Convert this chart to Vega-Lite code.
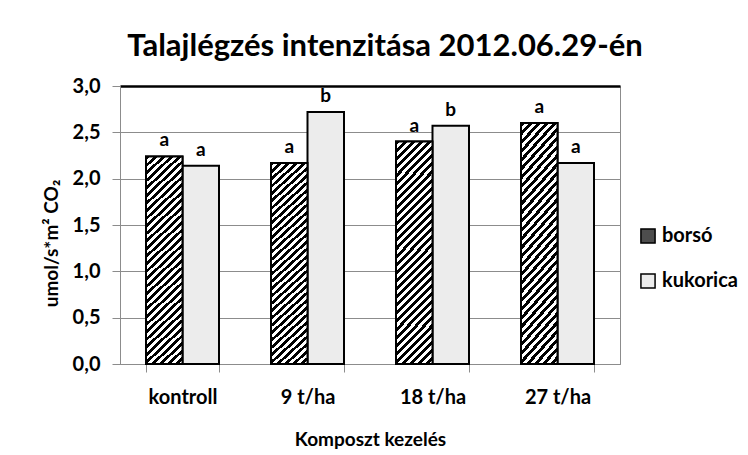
{
  "$schema": "https://vega.github.io/schema/vega-lite/v6.json",
  "width": 500,
  "height": 278,
  "autosize": "none",
  "padding": {"left": 120, "top": 86, "right": 128, "bottom": 91},
  "background": "white",
  "config": {"font": "Lato", "view": {"stroke": "#8c8c8c", "strokeWidth": 1}},
  "title": {"text": "Talajlégzés intenzitása 2012.06.29-én", "font": "Lato", "fontSize": 31, "fontWeight": "bold", "color": "black", "anchor": "middle", "frame": "group", "dx": 15, "dy": 16, "baseline": "alphabetic", "offset": 5},
  "data": {"values": [
    {"kezeles": "kontroll", "crop": "borsó", "value": 2.24, "sig": "a"},
    {"kezeles": "kontroll", "crop": "kukorica", "value": 2.14, "sig": "a"},
    {"kezeles": "9 t/ha", "crop": "borsó", "value": 2.17, "sig": "a"},
    {"kezeles": "9 t/ha", "crop": "kukorica", "value": 2.72, "sig": "b"},
    {"kezeles": "18 t/ha", "crop": "borsó", "value": 2.40, "sig": "a"},
    {"kezeles": "18 t/ha", "crop": "kukorica", "value": 2.57, "sig": "b"},
    {"kezeles": "27 t/ha", "crop": "borsó", "value": 2.60, "sig": "a"},
    {"kezeles": "27 t/ha", "crop": "kukorica", "value": 2.17, "sig": "a"}
  ]},
  "encoding": {
    "x": {"field": "kezeles", "type": "nominal", "sort": ["kontroll", "9 t/ha", "18 t/ha", "27 t/ha"],
      "scale": {"paddingInner": 0.416, "paddingOuter": 0.208},
      "title": "Komposzt kezelés",
      "axis": {"labelAngle": 0, "tickBand": "extent", "labelFontSize": 20, "labelFontWeight": "bold", "labelColor": "black", "domainColor": "#8c8c8c", "tickColor": "#8c8c8c", "tickSize": 8, "labelPadding": 15, "titleFontSize": 19, "titleFontWeight": "bold", "titleColor": "black", "titlePadding": 23, "grid": false}},
    "xOffset": {"field": "crop", "type": "nominal", "sort": ["borsó", "kukorica"], "scale": {"paddingInner": 0, "paddingOuter": 0}},
    "y": {"field": "value", "type": "quantitative", "scale": {"domain": [0, 3], "nice": false},
      "title": "umol/s*m² CO₂",
      "axis": {"values": [0, 0.5, 1, 1.5, 2, 2.5, 3], "labelExpr": "replace(format(datum.value, '.1f'), '.', ',')", "labelFontSize": 20, "labelFontWeight": "bold", "labelColor": "black", "domainColor": "#8c8c8c", "tickColor": "#8c8c8c", "tickSize": 8, "labelPadding": 12,
        "gridColor": {"condition": {"test": "datum.value === 3", "value": "black"}, "value": "#8c8c8c"},
        "gridWidth": {"condition": {"test": "datum.value === 3", "value": 2.5}, "value": 1},
        "titleFontSize": 19, "titleFontWeight": "bold", "titleColor": "black", "titlePadding": 11, "titleY": 157}}
  },
  "layer": [
    {"mark": {"type": "bar", "stroke": "black", "strokeWidth": 2},
     "encoding": {"fill": {"field": "crop", "type": "nominal", "sort": ["borsó", "kukorica"], "scale": {"range": ["#4d4d4d", "#ececec"]},
       "legend": {"title": null, "orient": "none", "legendX": 518, "legendY": 140, "symbolType": "square", "symbolSize": 200, "symbolStrokeColor": "black", "symbolStrokeWidth": 1.5, "labelFontSize": 20, "labelFontWeight": "bold", "labelColor": "black", "labelOffset": 4, "rowPadding": 23,
         "encode": {"symbols": {"update": {
           "stroke": {"value": "black"}, "strokeWidth": {"value": 1.5}, "opacity": {"value": 1}}}}}}}},
    {"transform": [{"filter": "datum.crop === 'borsó'"}],
     "mark": {"type": "bar", "stroke": "black", "strokeWidth": 2,
       "fill": {"gradient": "linear", "x1": 0, "y1": 0, "x2": 0.189, "y2": 1.135, "stops": [
{"offset":0,"color":"#000"},{"offset":0.015625,"color":"#000"},{"offset":0.015625,"color":"#fff"},{"offset":0.03125,"color":"#fff"},
{"offset":0.03125,"color":"#000"},{"offset":0.046875,"color":"#000"},{"offset":0.046875,"color":"#fff"},{"offset":0.0625,"color":"#fff"},
{"offset":0.0625,"color":"#000"},{"offset":0.078125,"color":"#000"},{"offset":0.078125,"color":"#fff"},{"offset":0.09375,"color":"#fff"},
{"offset":0.09375,"color":"#000"},{"offset":0.109375,"color":"#000"},{"offset":0.109375,"color":"#fff"},{"offset":0.125,"color":"#fff"},
{"offset":0.125,"color":"#000"},{"offset":0.140625,"color":"#000"},{"offset":0.140625,"color":"#fff"},{"offset":0.15625,"color":"#fff"},
{"offset":0.15625,"color":"#000"},{"offset":0.171875,"color":"#000"},{"offset":0.171875,"color":"#fff"},{"offset":0.1875,"color":"#fff"},
{"offset":0.1875,"color":"#000"},{"offset":0.203125,"color":"#000"},{"offset":0.203125,"color":"#fff"},{"offset":0.21875,"color":"#fff"},
{"offset":0.21875,"color":"#000"},{"offset":0.234375,"color":"#000"},{"offset":0.234375,"color":"#fff"},{"offset":0.25,"color":"#fff"},
{"offset":0.25,"color":"#000"},{"offset":0.265625,"color":"#000"},{"offset":0.265625,"color":"#fff"},{"offset":0.28125,"color":"#fff"},
{"offset":0.28125,"color":"#000"},{"offset":0.296875,"color":"#000"},{"offset":0.296875,"color":"#fff"},{"offset":0.3125,"color":"#fff"},
{"offset":0.3125,"color":"#000"},{"offset":0.328125,"color":"#000"},{"offset":0.328125,"color":"#fff"},{"offset":0.34375,"color":"#fff"},
{"offset":0.34375,"color":"#000"},{"offset":0.359375,"color":"#000"},{"offset":0.359375,"color":"#fff"},{"offset":0.375,"color":"#fff"},
{"offset":0.375,"color":"#000"},{"offset":0.390625,"color":"#000"},{"offset":0.390625,"color":"#fff"},{"offset":0.40625,"color":"#fff"},
{"offset":0.40625,"color":"#000"},{"offset":0.421875,"color":"#000"},{"offset":0.421875,"color":"#fff"},{"offset":0.4375,"color":"#fff"},
{"offset":0.4375,"color":"#000"},{"offset":0.453125,"color":"#000"},{"offset":0.453125,"color":"#fff"},{"offset":0.46875,"color":"#fff"},
{"offset":0.46875,"color":"#000"},{"offset":0.484375,"color":"#000"},{"offset":0.484375,"color":"#fff"},{"offset":0.5,"color":"#fff"},
{"offset":0.5,"color":"#000"},{"offset":0.515625,"color":"#000"},{"offset":0.515625,"color":"#fff"},{"offset":0.53125,"color":"#fff"},
{"offset":0.53125,"color":"#000"},{"offset":0.546875,"color":"#000"},{"offset":0.546875,"color":"#fff"},{"offset":0.5625,"color":"#fff"},
{"offset":0.5625,"color":"#000"},{"offset":0.578125,"color":"#000"},{"offset":0.578125,"color":"#fff"},{"offset":0.59375,"color":"#fff"},
{"offset":0.59375,"color":"#000"},{"offset":0.609375,"color":"#000"},{"offset":0.609375,"color":"#fff"},{"offset":0.625,"color":"#fff"},
{"offset":0.625,"color":"#000"},{"offset":0.640625,"color":"#000"},{"offset":0.640625,"color":"#fff"},{"offset":0.65625,"color":"#fff"},
{"offset":0.65625,"color":"#000"},{"offset":0.671875,"color":"#000"},{"offset":0.671875,"color":"#fff"},{"offset":0.6875,"color":"#fff"},
{"offset":0.6875,"color":"#000"},{"offset":0.703125,"color":"#000"},{"offset":0.703125,"color":"#fff"},{"offset":0.71875,"color":"#fff"},
{"offset":0.71875,"color":"#000"},{"offset":0.734375,"color":"#000"},{"offset":0.734375,"color":"#fff"},{"offset":0.75,"color":"#fff"},
{"offset":0.75,"color":"#000"},{"offset":0.765625,"color":"#000"},{"offset":0.765625,"color":"#fff"},{"offset":0.78125,"color":"#fff"},
{"offset":0.78125,"color":"#000"},{"offset":0.796875,"color":"#000"},{"offset":0.796875,"color":"#fff"},{"offset":0.8125,"color":"#fff"},
{"offset":0.8125,"color":"#000"},{"offset":0.828125,"color":"#000"},{"offset":0.828125,"color":"#fff"},{"offset":0.84375,"color":"#fff"},
{"offset":0.84375,"color":"#000"},{"offset":0.859375,"color":"#000"},{"offset":0.859375,"color":"#fff"},{"offset":0.875,"color":"#fff"},
{"offset":0.875,"color":"#000"},{"offset":0.890625,"color":"#000"},{"offset":0.890625,"color":"#fff"},{"offset":0.90625,"color":"#fff"},
{"offset":0.90625,"color":"#000"},{"offset":0.921875,"color":"#000"},{"offset":0.921875,"color":"#fff"},{"offset":0.9375,"color":"#fff"},
{"offset":0.9375,"color":"#000"},{"offset":0.953125,"color":"#000"},{"offset":0.953125,"color":"#fff"},{"offset":0.96875,"color":"#fff"},
{"offset":0.96875,"color":"#000"},{"offset":0.984375,"color":"#000"},{"offset":0.984375,"color":"#fff"},{"offset":1,"color":"#fff"}
       ]}}},
    {"mark": {"type": "text", "dy": -10, "baseline": "alphabetic", "fontSize": 19, "fontWeight": "bold", "color": "black"},
     "encoding": {"text": {"field": "sig"}}}
  ]
}
